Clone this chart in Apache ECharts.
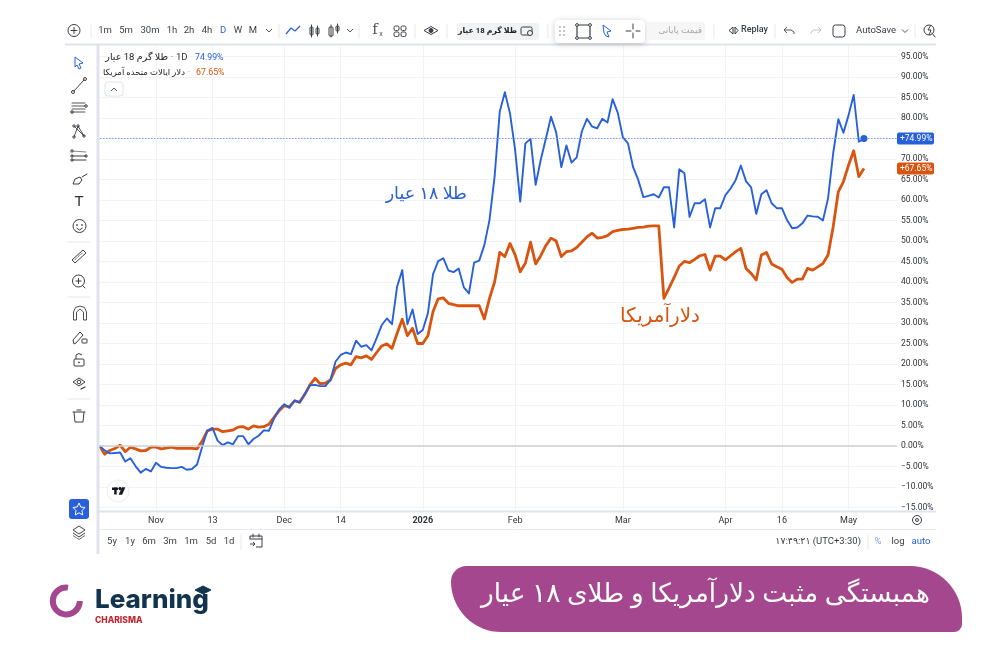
<!DOCTYPE html>
<html>
<head>
<meta charset="utf-8">
<title>همبستگی مثبت دلارآمریکا و طلای ۱۸ عیار</title>
<style>html,body{margin:0;padding:0;background:#fff}#chart{width:1000px;height:667px}</style>
<script src="https://cdn.jsdelivr.net/npm/echarts@6/dist/echarts.min.js"></script>
</head>
<body>
<div id="chart"></div>
<script>
// Percent change per session since the start of the range
const goldPct = [
  0,-1.1,-1.8,-1.7,-1.6,-3.8,-3.0,-4.9,-6.5,-5.6,-6.2,-4.1,-5.1,-5.3,-5.4,-5.4,-5.1,-5.8,-5.6,-4.5,
  -0.2,3.7,4.4,1.3,0.2,0.9,0.4,2.4,2.4,0.4,1.7,2.5,3.8,3.7,6.7,8.9,10.2,9.3,11.1,10.6,
  12.6,14.8,14.9,14.6,14.6,16.1,20.6,22.2,22.8,22.4,25.7,24.2,24.6,23.3,26.3,29.5,31.1,29.7,38.9,42.9,
  29.7,33.3,27.3,28.3,32.4,41.9,45.1,45.8,42.8,42.4,43.3,38.7,37.2,44.7,45.2,49,55.1,65.7,81.5,86.3,
  81.1,72.2,59.6,73.8,74.9,63.7,69.8,75,80.3,76.5,68,73.3,69.1,70.4,76.7,79.8,77.9,77.5,79.8,78.9,
  84.6,81.3,75.3,73.8,68,64.9,60.7,61,61.4,60.6,63.1,63.1,53.3,67.5,66.5,55.9,59.2,59.2,60.2,53.3,
  58,58,61.2,62.8,64.9,68.4,64.6,63.1,56.6,61.4,62.4,59.2,58,58,55.1,53.1,53.3,54.3,56.2,56,
  55.9,55,60.4,71.4,79.7,76.4,80.7,85.6,74.2,74.99
];
const usdPct = [
  0,-2,-1.1,-0.6,0.2,-1.4,-0.3,-0.7,-1.2,-1.1,-0.3,-0.3,-0.7,-0.5,-0.3,-0.6,-0.6,-0.6,-0.6,-0.7,
  1.2,3.7,4.1,4.1,3.5,3.7,3.9,4.6,4.7,4.1,4.9,4.6,4.7,5.3,7,8.6,9.8,9.6,11,10.7,
  12.6,14.9,16.5,15.2,15.3,16.1,18.9,19.8,20.2,19.8,21.8,21.5,22,21.1,22.8,24.4,24.9,23.8,27.5,30.9,
  26.9,28.7,25,25,26.9,32.8,35.9,36.1,34.8,34.5,34.2,34.2,34.2,34.2,34.2,31,36,40,47.2,46.2,
  49.4,46.6,42.5,44.6,49.7,44.4,46.4,48.9,50.7,50,46.2,47.4,47.6,48.4,49.7,51,51.9,50.7,50.9,51.3,
  52.3,52.6,52.8,52.9,53.1,53.3,53.4,53.6,53.7,53.7,36,38.5,41.1,43.9,45,44.7,45.5,46.4,46.7,42.9,
  46.3,46.3,45.4,46.4,47.4,48.2,43.3,42.1,40.5,46.6,47.2,44.4,43.7,43.1,41.1,39.9,40.7,40.7,43.3,42.9,
  43.7,44.5,46.6,53.5,62,64.5,68.5,72,65.7,67.65
];
const yTicks = [-15,-10,-5,0,5,10,15,20,25,30,35,40,45,50,55,60,65,70,75,80,85,90,95];
const xTickBars = [11,22,36,47,63,81,102,122,133,146];
const xTickLabels = ['Nov','13','Dec','14','2026','Feb','Mar','Apr','16','May'];
const goldLast = 74.99;
const usdLast = 67.65;

const BLUE = '#2860dc', ORANGE = '#d9540f', INK = '#3a3d45', LAV = '#e1e3ec', SEP = '#e8e9ee';
const FONT = 'Roboto, "DejaVu Sans", sans-serif';

// Interface chrome around the plot: small helpers for text and outline icons
const els = [];
const txt = (x, y, s, o = {}) => els.push({ type: 'text', silent: true, z: 20, style: {
  x, y, text: s, fill: o.c || INK, align: o.a || 'center', verticalAlign: 'middle',
  font: `${o.w || 400} ${o.s || 9}px ${o.f || FONT}` } });
const ln = (x1, y1, x2, y2, c = INK, w = 1) => els.push({ type: 'line', silent: true, z: 20,
  shape: { x1, y1, x2, y2 }, style: { stroke: c, lineWidth: w, lineCap: 'round' } });
const pl = (pts, c = INK, w = 1, fill) => els.push({ type: fill ? 'polygon' : 'polyline', silent: true, z: 20,
  shape: { points: pts }, style: { stroke: c, lineWidth: w, fill: fill || null, lineJoin: 'round' } });
const ci = (cx, cy, r, c = INK, w = 1, fill = null) => els.push({ type: 'circle', silent: true, z: 20,
  shape: { cx, cy, r }, style: { stroke: c, lineWidth: w, fill } });
const rc = (x, y, width, height, r, fill, stroke, w = 1, extra = {}) => els.push({ type: 'rect', silent: true, z: 20,
  shape: { x, y, width, height, r }, style: { fill: fill || null, stroke: stroke || null, lineWidth: w, ...extra } });
const chev = (x, y, up) => pl([[x - 3, y + (up ? 1.5 : -1.5)], [x, y + (up ? -1.5 : 1.5)], [x + 3, y + (up ? 1.5 : -1.5)]], '#555', 1);

// Frame lines
rc(65, 43.5, 871, 2, 0, LAV);
rc(96.5, 45, 3, 509, 0, LAV);
rc(99, 510.5, 837, 2, 0, LAV);
ln(99, 529.5, 936, 529.5, '#e9eaf0', 1);

// Top toolbar
ci(74, 30.5, 6, INK, 1); ln(71, 30.5, 77, 30.5); ln(74, 27.5, 74, 33.5);
[[91, SEP], [279, SEP], [359, SEP], [415, SEP], [447, SEP], [548, SEP], [714, SEP], [775, SEP], [915, SEP]]
  .forEach(([x, c]) => ln(x, 24, x, 38, c, 1));
[['1m', 105], ['5m', 126], ['30m', 150], ['1h', 172], ['2h', 189], ['4h', 207], ['W', 238], ['M', 253]]
  .forEach(([s, x]) => txt(x, 30.5, s, { s: 9.5 }));
txt(223, 30.5, 'D', { s: 9.5, c: BLUE });
chev(269, 30.5);
pl([[286, 34], [291, 28], [295, 31], [300, 26]], BLUE, 1.2);
rc(310, 27, 3, 8, 1, null, INK); ln(311.5, 25, 311.5, 37); rc(316, 28, 3, 6, 1, null, INK); ln(317.5, 26, 317.5, 36);
rc(329, 27, 4, 9, 1, null, INK); ln(331, 25, 331, 37); rc(336, 26, 3, 5, 1, null, INK); ln(337.5, 24, 337.5, 33);
chev(350, 30.5);
txt(375, 30.5, 'f', { s: 15, f: '"DejaVu Serif", serif', c: '#555' }); txt(381, 34, 'x', { s: 7, c: '#555' });
[[394, 26], [401, 26], [394, 32], [401, 32]].forEach(([x, y]) => rc(x, y, 5, 4.5, 1.5, null, INK));
pl([[424, 30.5], [431, 26.5], [438, 30.5], [431, 34.5], [424, 30.5]], INK, 1); ci(431, 30.5, 2, INK, 1, INK);
rc(457, 23, 82, 17, 3, '#f1f2f4');
txt(517, 31, 'طلا گرم 18 عیار', { s: 7.8, w: 700, a: 'right', c: '#222' });
rc(521, 27, 11, 8, 1.5, null, INK); ci(530, 33, 2.5, INK, 1, '#f1f2f4');
rc(555, 20, 90, 23, 4, '#fff', null, 1, { shadowBlur: 6, shadowColor: 'rgba(0,0,0,.22)', shadowOffsetY: 1 });
[[560, 27], [564, 27], [560, 31], [564, 31], [560, 35], [564, 35]].forEach(([x, y]) => ci(x, y, 0.6, '#aaa', 1));
rc(577, 25, 13, 13, 0, null, INK, 1.2);
[[577, 25], [590, 25], [577, 38], [590, 38]].forEach(([x, y]) => ci(x, y, 1.4, INK, 1, '#fff'));
pl([[603, 25], [611, 31], [607, 32], [609, 37], [606, 36], [604, 33], [603, 25]], BLUE, 1);
ln(626, 31, 631, 31); ln(636, 31, 640, 31); ln(633, 24, 633, 29); ln(633, 33, 633, 38);
rc(647, 22, 58, 18, 3, '#f6f6f7');
txt(702, 31, 'قیمت پایانی', { s: 9, a: 'right', c: '#a8a8ad' });
pl([[733, 27], [729, 30.5], [733, 34], [733, 27]], INK, 1); pl([[735, 27], [738, 30.5], [735, 34], [735, 27]], INK, 1);
txt(741, 30, 'Replay', { s: 9, a: 'left', w: 500 });
pl([[787, 27], [784, 30], [787, 33]], '#555', 1); pl([[784, 30], [791, 30], [794, 32], [794, 34]], '#555', 1);
pl([[818, 27], [821, 30], [818, 33]], '#c5c5c9', 1); pl([[821, 30], [814, 30], [811, 32], [811, 34]], '#c5c5c9', 1);
rc(833, 25, 12, 12, 2.5, null, INK, 1);
txt(856, 30.5, 'AutoSave', { s: 9.5, a: 'left' });
chev(905, 31);
ci(929, 30, 5, INK, 1); pl([[931, 25], [928, 30], [931, 30], [929, 35]], INK, 1); ln(932, 33, 935, 37);

// Left drawing tools
pl([[75, 57], [83, 63], [79, 64], [81, 68], [79, 69], [77, 65], [75, 67], [75, 57]], BLUE, 1);
ln(74, 91, 84, 80); ci(73, 92, 1.5); ci(85, 79, 1.5);
[103, 106, 109, 112].forEach(y => ln(72, y, 85, y, '#555', 1)); ci(86, 106, 1.3); ci(72, 112, 1.3);
pl([[74, 137], [78, 126], [84, 136], [74, 126]], INK, 0.9); [[74, 137], [78, 126], [84, 136], [74, 126]].forEach(([x, y]) => ci(x, y, 1.2));
ln(72, 151, 86, 152, '#888', 1); ln(72, 156, 86, 156); ln(72, 160, 86, 160); ci(72, 156, 1.2); ci(72, 160, 1.2); ci(86, 156, 1.2); ci(72, 151, 1.2);
pl([[73, 184], [75, 179], [80, 177], [82, 180], [79, 184], [73, 184]], INK, 1); ln(82, 177, 87, 174);
txt(79, 202, 'T', { s: 15, f: '"Liberation Sans", sans-serif', c: '#333' });
ci(79.5, 226, 6.5); ci(77, 225, 0.5); ci(82, 225, 0.5); pl([[76.5, 228], [79.5, 230], [82.5, 228]], INK, 1);
ln(68, 242, 90, 242, SEP);
pl([[72, 260], [83, 250], [86, 253], [75, 263], [72, 260]], INK, 1);
[[75, 260, 76.5, 258], [78, 257, 79.5, 255], [81, 254.5, 82.5, 253]].forEach(a => ln(...a, INK, 0.7));
ci(78.5, 281, 6); ln(76, 281, 81, 281); ln(78.5, 278.5, 78.5, 283.5); ln(83, 286, 85, 288);
ln(68, 297, 90, 297, SEP);
pl([[73.5, 320], [73.5, 312], [75.5, 307.5], [80, 306], [84.5, 307.5], [86.5, 312], [86.5, 320], [83.5, 320], [83.5, 312], [80, 309], [76.5, 312], [76.5, 320], [73.5, 320]], INK, 0.9);
pl([[74, 344], [73, 340], [80, 332], [83, 335], [76, 343], [74, 344]], INK, 1); rc(82, 339, 5, 4, 0.5, null, INK);
rc(74, 359, 10, 7, 1, null, INK); pl([[76, 359], [76, 355], [79, 353.5], [82, 355]], INK, 1); ci(79, 362.5, 0.6);
pl([[73, 382], [79, 378], [85, 382], [79, 386], [73, 382]], INK, 1); ci(79, 382, 1.8); ln(81, 389, 85, 387, INK, 1.2);
ln(68, 399, 90, 399, SEP);
pl([[74, 412], [75, 422], [83, 422], [84, 412]], INK, 1); ln(73, 412, 85, 412); ln(77, 410, 81, 410);

// Favourites button and layers
rc(69, 499, 20, 20, 3, BLUE);
pl([[79, 503], [80.8, 507], [85, 507.5], [82, 510.5], [82.7, 515], [79, 512.8], [75.3, 515], [76, 510.5], [73, 507.5], [77.2, 507], [79, 503]], '#fff', 1);
pl([[73, 530], [79, 526], [85, 530], [79, 534], [73, 530]], '#444', 1, '#fff');
pl([[73, 533], [79, 537], [85, 533]], '#444', 1); pl([[73, 535.5], [79, 539.5], [85, 535.5]], '#777', 1);

// Series legend
txt(168, 57.5, 'طلا گرم 18 عیار', { s: 9.5, a: 'right', c: '#222' });
txt(172, 57.5, '·', { s: 9, c: '#555' }); txt(176, 57.5, '1D', { s: 9.5, a: 'left', c: '#333' });
txt(195, 57.5, goldLast.toFixed(2) + '%', { s: 8.8, a: 'left', c: BLUE });
txt(185, 72.5, 'دلار ایالات متحده آمریکا', { s: 8.5, a: 'right', c: '#222' });
txt(189, 72.5, '·', { s: 9, c: '#999' });
txt(196, 72.5, usdLast.toFixed(2) + '%', { s: 8.8, a: 'left', c: ORANGE });
rc(105, 82, 18, 14, 3, '#fff', '#e3e4e8');
chev(114, 89.5, true);

// Chart watermark badge
ci(118, 491, 11, '#eceded', 1, '#fff');
rc(112, 487.5, 6, 2.5, 0, '#131722'); rc(114.2, 487.5, 2.5, 7, 0, '#131722');
ci(120, 488.6, 1.2, '#131722', 1, '#131722');
pl([[122, 487.5], [125, 487.5], [122, 494.5], [119, 494.5], [122, 487.5]], '#131722', 0.5, '#131722');

// Annotations on the plot
txt(467, 194.5, 'طلا ۱۸ عیار', { s: 17.5, a: 'right', c: BLUE });
txt(700, 317, 'دلارآمریکا', { s: 20, a: 'right', c: ORANGE });

// Settings gear at the axis corner
ci(917, 520, 4.5, INK, 1); ci(917, 520, 1.5, INK, 1);

// Bottom range bar
[['5y', 112], ['1y', 130], ['6m', 149], ['3m', 170], ['1m', 191], ['5d', 211], ['1d', 229]]
  .forEach(([s, x]) => txt(x, 541.5, s, { s: 9.5 }));
ln(241, 535, 241, 549, SEP);
pl([[250, 539], [250, 536], [262, 536], [262, 547], [256, 547]], INK, 1); ln(250, 539, 262, 539); ln(253, 534, 253, 537); ln(259, 534, 259, 537);
pl([[250, 544], [255, 544]], INK, 1); pl([[253, 542], [255, 544], [253, 546]], INK, 1);
txt(861, 541.5, '۱۷:۴۹:۲۱ (UTC+3:30)', { s: 9.5, a: 'right' });
ln(868, 535, 868, 549, SEP);
txt(878, 541.5, '%', { s: 9.5, c: '#7ea0ea' });
txt(898, 541.5, 'log', { s: 9.5 });
txt(921, 541.5, 'auto', { s: 9.5, c: BLUE });

// Caption ribbon
rc(451, 566, 511, 66, [16, 52, 8, 52], '#a4478f');
txt(930, 595, 'همبستگی مثبت دلارآمریکا و طلای ۱۸ عیار', { s: 26.4, a: 'right', c: '#fff' });

// Brand mark
els.push({ type: 'arc', silent: true, z: 20,
  shape: { cx: 66.3, cy: 601, r: 13.5, startAngle: -Math.PI * 0.46, endAngle: 0, clockwise: false },
  style: { stroke: '#a4478f', lineWidth: 6, fill: null } });
txt(95, 600.5, 'Learning', { s: 26, w: 800, a: 'left', c: '#12344f', f: 'Inter, sans-serif' });
txt(95, 620, 'CHARISMA', { s: 8.5, w: 800, a: 'left', c: '#c3272f', f: 'Inter, sans-serif' });
pl([[195, 590], [203, 586], [211, 590], [203, 594], [195, 590]], '#12344f', 1, '#12344f');

// Plot
const chart = echarts.init(document.getElementById('chart'), null, { renderer: 'canvas' });
const pairs = arr => arr.map((v, i) => [i, v]);
const tagLabel = (text, color) => ({
  show: true, position: 'end', distance: 0, formatter: text, color: '#fff', backgroundColor: color,
  width: 32, align: 'left', padding: [2, 2, 1, 3], borderRadius: 2, fontSize: 8.5, fontFamily: FONT
});

chart.setOption({
  animation: false,
  backgroundColor: '#fff',
  grid: { left: 97, top: 45, width: 800, height: 467, containLabel: false },
  xAxis: {
    type: 'value', min: -0.507, max: 155.44,
    axisLine: { show: false },
    axisTick: { show: false, customValues: xTickBars },
    axisLabel: {
      customValues: xTickBars, margin: 4, color: '#2f3238', fontSize: 9, fontFamily: FONT,
      formatter: v => {
        const s = xTickLabels[xTickBars.indexOf(v)] || '';
        return /^\d{4}$/.test(s) ? `{year|${s}}` : s;
      },
      rich: { year: { fontWeight: 700, fontSize: 9, fontFamily: FONT, color: '#2f3238' } }
    },
    splitLine: { show: true, lineStyle: { color: '#f2f3f6', width: 1 } }
  },
  yAxis: {
    type: 'value', position: 'right', min: -16.1, max: 97.8,
    axisLine: { show: false },
    axisTick: { show: false, customValues: yTicks },
    axisLabel: {
      customValues: yTicks, margin: 4, color: '#2f3238', fontSize: 8.5, fontFamily: FONT,
      formatter: v => (v < 0 ? '\u2212' : '') + Math.abs(v).toFixed(2) + '%'
    },
    splitLine: { show: true, lineStyle: { color: '#f2f3f6', width: 1 } }
  },
  graphic: { elements: els },
  series: [
    {
      name: 'دلار ایالات متحده آمریکا', type: 'line', data: pairs(usdPct), symbol: 'none', z: 3,
      lineStyle: { color: ORANGE, width: 2.8, join: 'round' },
      markLine: {
        silent: true, symbol: 'none', animation: false,
        data: [{ yAxis: usdLast, lineStyle: { color: 'rgba(0,0,0,0)', width: 0 }, label: tagLabel('+67.65%', ORANGE) }]
      }
    },
    {
      name: 'طلا گرم 18 عیار', type: 'line', data: pairs(goldPct), symbol: 'none', z: 4,
      lineStyle: { color: BLUE, width: 1.9, join: 'round' },
      markLine: {
        silent: true, symbol: 'none', animation: false,
        data: [
          { yAxis: goldLast, lineStyle: { color: '#7d9ff0', type: [1.5, 1.5], width: 1 }, label: tagLabel('+74.99%', BLUE) },
          { yAxis: 0, lineStyle: { color: '#cfd0d4', type: 'solid', width: 1.5 }, label: { show: false } }
        ]
      },
      markPoint: {
        silent: true, symbol: 'circle', symbolSize: 7, animation: false,
        itemStyle: { color: BLUE }, label: { show: false },
        data: [{ coord: [goldPct.length - 1, goldLast] }]
      }
    }
  ]
});
</script>
</body>
</html>
